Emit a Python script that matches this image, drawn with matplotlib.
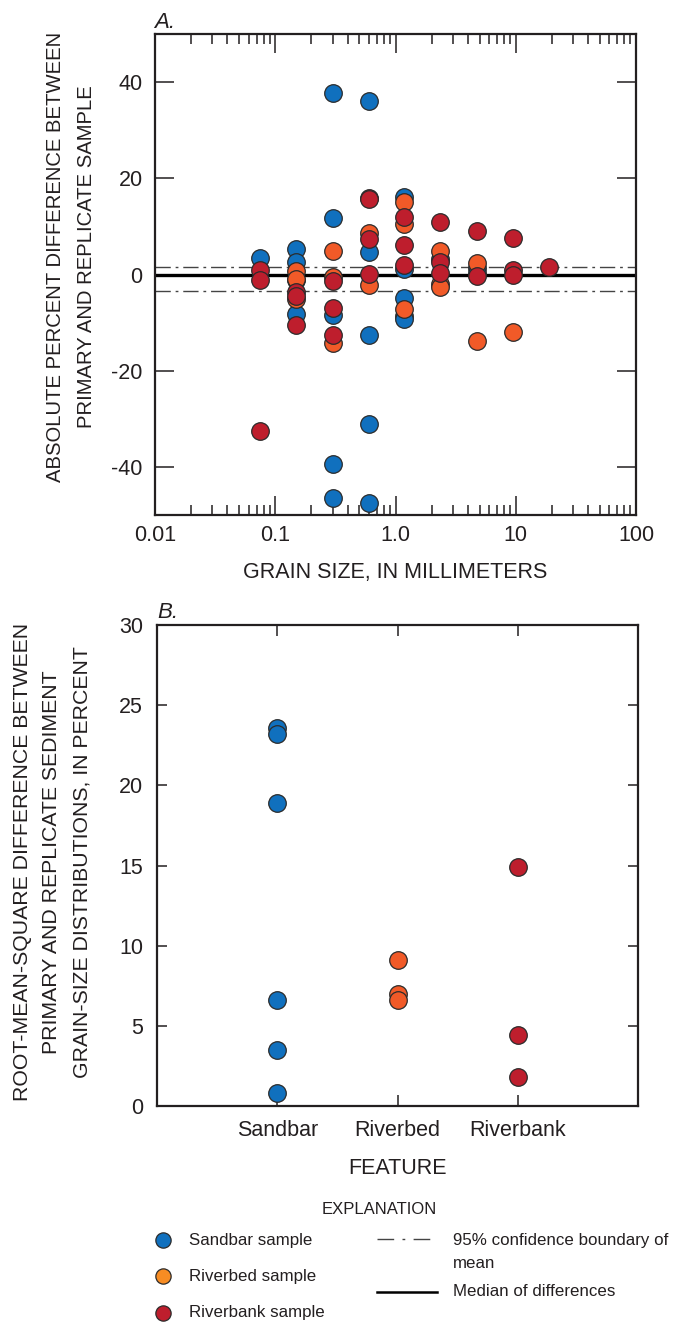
import matplotlib.pyplot as plt
from matplotlib.lines import Line2D
import matplotlib.ticker as mticker

plt.rcParams['font.family'] = ['Liberation Sans', 'DejaVu Sans']
plt.rcParams['axes.unicode_minus'] = False

# ---- panel A: percent difference by grain size ----
sand_size = [0.075, 0.15, 0.15, 0.15, 0.15, 0.3, 0.3, 0.3, 0.3, 0.3,
             0.6, 0.6, 0.6, 0.6, 0.6, 1.18, 1.18, 1.18, 1.18, 1.18,
             2.36, 4.75, 4.75]
sand_diff = [3.4, 5.3, 2.6, -1.2, -8.3, 37.7, 11.7, -8.4, -39.3, -46.5,
             36.0, 4.7, -12.5, -31.1, -47.6, 16.2, 1.2, -4.8, -8.6, -9.3,
             3.2, 1.4, 0.3]

bed_size = [0.15, 0.15, 0.15, 0.3, 0.3, 0.3, 0.6, 0.6, 1.18, 1.18, 1.18,
            2.36, 2.36, 2.36, 4.75, 4.75, 9.5]
bed_diff = [0.7, -1.0, -5.0, 4.9, -0.6, -14.3, 8.7, -2.2, 15.1, 10.6, -7.1,
            4.9, -1.9, -2.6, 2.3, -13.9, -11.9]

bank_size = [0.075, 0.075, 0.075, 0.15, 0.15, 0.15, 0.3, 0.3, 0.3,
             0.6, 0.6, 0.6, 0.6, 1.18, 1.18, 1.18, 2.36, 2.36, 2.36,
             4.75, 4.75, 9.5, 9.5, 9.5, 19.0]
bank_diff = [0.9, -1.2, -32.6, -3.7, -4.4, -10.6, -1.3, -6.9, -12.5,
             16.0, 15.6, 7.3, 0.1, 12.0, 6.2, 1.9, 11.0, 2.5, 0.4,
             9.0, -0.4, 7.5, 1.0, -0.1, 1.6]

median_diff = 0.0
ci_upper = 1.5
ci_lower = -3.5

# ---- panel B: RMS difference by feature ----
features = ['Sandbar', 'Riverbed', 'Riverbank']
sandbar_rms = [23.6, 23.2, 18.9, 6.6, 3.5, 0.8]
riverbed_rms = [9.1, 7.0, 6.6]
riverbank_rms = [14.9, 4.4, 1.8]

blue = '#1070be'
orange = '#f15a28'
red = '#be1e2d'
orange_key = '#f78c23'
edge = '#2b2b2b'
ink = '#231f20'
dashdot = (0, (11, 3.5, 2, 3.5))
tick_fs = 15.5
label_fs = 15.5

W, H = 686, 1328
fig = plt.figure(figsize=(W / 100, H / 100), dpi=100)


def box(x0, y0, x1, y1):
    return [x0 / W, 1 - y1 / H, (x1 - x0) / W, (y1 - y0) / H]


mk = dict(s=160, edgecolors=edge, linewidths=0.9, zorder=3, clip_on=False)

# panel A
ax = fig.add_axes(box(155, 34, 636, 515))
ax.scatter(sand_size, sand_diff, c=blue, **mk)
ax.scatter(bed_size, bed_diff, c=orange, **mk)
ax.scatter(bank_size, bank_diff, c=red, **mk)
ax.axhline(median_diff, color='black', lw=2.4, zorder=2)
ax.axhline(ci_upper, color='#444444', lw=1.0, ls=dashdot, zorder=2)
ax.axhline(ci_lower, color='#444444', lw=1.0, ls=dashdot, zorder=2)
ax.set_xscale('log')
ax.set_xlim(0.01, 100)
ax.set_ylim(-50, 50)
ax.set_yticks([-40, -20, 0, 20, 40])
ax.xaxis.set_major_locator(mticker.FixedLocator([0.01, 0.1, 1, 10, 100]))
ax.xaxis.set_major_formatter(mticker.FixedFormatter(['0.01', '0.1', '1.0', '10', '100']))
ax.xaxis.set_minor_locator(mticker.LogLocator(base=10, subs=range(2, 10)))
ax.xaxis.set_minor_formatter(mticker.NullFormatter())
ax.tick_params(which='both', direction='in', top=True, right=True,
               colors=ink, labelsize=tick_fs, width=1.1)
ax.tick_params(which='major', length=14)
ax.tick_params(which='minor', length=7)
ax.tick_params(axis='y', pad=9)
ax.tick_params(axis='x', pad=7)
for sp in ax.spines.values():
    sp.set_linewidth(1.6)
    sp.set_color(ink)
ax.set_xlabel('GRAIN SIZE, IN MILLIMETERS', fontsize=label_fs, color=ink,
              labelpad=12)
fig.text(71 / W, 1 - 257 / H,
         'ABSOLUTE PERCENT DIFFERENCE BETWEEN\nPRIMARY AND REPLICATE SAMPLE',
         rotation=90, ha='center', va='center', ma='center',
         fontsize=14.6, color=ink, linespacing=1.75)
fig.text(154 / W, 1 - 22 / H, 'A.', style='italic', fontsize=16,
         color=ink, va='center', ha='left')

# panel B
bx = fig.add_axes(box(157, 625, 638, 1106))
bx.scatter(['Sandbar'] * len(sandbar_rms), sandbar_rms, c=blue, **mk)
bx.scatter(['Riverbed'] * len(riverbed_rms), riverbed_rms, c=orange, **mk)
bx.scatter(['Riverbank'] * len(riverbank_rms), riverbank_rms, c=red, **mk)
bx.set_xlim(-1, 3)
bx.set_ylim(0, 30)
bx.set_yticks(range(0, 31, 5))
bx.tick_params(which='both', direction='in', top=True, right=True,
               colors=ink, labelsize=tick_fs, width=1.1)
bx.tick_params(axis='y', length=7, pad=10)
bx.tick_params(axis='x', length=8, pad=10)
for sp in bx.spines.values():
    sp.set_linewidth(1.6)
    sp.set_color(ink)
bx.set_xlabel('FEATURE', fontsize=label_fs, color=ink, labelpad=12)
fig.text(52 / W, 1 - 862 / H,
         'ROOT-MEAN-SQUARE DIFFERENCE BETWEEN\nPRIMARY AND REPLICATE SEDIMENT\n'
         'GRAIN-SIZE DISTRIBUTIONS, IN PERCENT',
         rotation=90, ha='center', va='center', ma='center',
         fontsize=15.3, color=ink, linespacing=1.72)

fig.text(157 / W, 1 - 612 / H, 'B.', style='italic', fontsize=16,
         color=ink, va='center', ha='left')

# explanation
fig.text(379 / W, 1 - 1210 / H, 'EXPLANATION', fontsize=12, color=ink,
         ha='center', va='center')
keys = [('Sandbar sample', blue, 1240), ('Riverbed sample', orange_key, 1276),
        ('Riverbank sample', red, 1313)]
for label, col, y in keys:
    fig.add_artist(Line2D([163 / W], [1 - y / H], marker='o', ms=11,
                          mfc=col, mec=edge, mew=0.9, ls='none'))
    fig.text(189 / W, 1 - y / H, label, fontsize=12.2, color=ink, va='center')
fig.add_artist(Line2D([377 / W, 434 / W], [1 - 1239 / H] * 2, color='#444444',
                      lw=1.0, ls=(0, (12, 6, 2, 6))))
fig.text(453 / W, 1 - 1252 / H, '95% confidence boundary of\nmean',
         fontsize=12.2, color=ink, va='center', linespacing=1.6)
fig.add_artist(Line2D([377 / W, 437 / W], [1 - 1292 / H] * 2, color='black',
                      lw=1.8))
fig.text(453 / W, 1 - 1292 / H, 'Median of differences', fontsize=12.2,
         color=ink, va='center')

fig.savefig('out.png', dpi=100)
